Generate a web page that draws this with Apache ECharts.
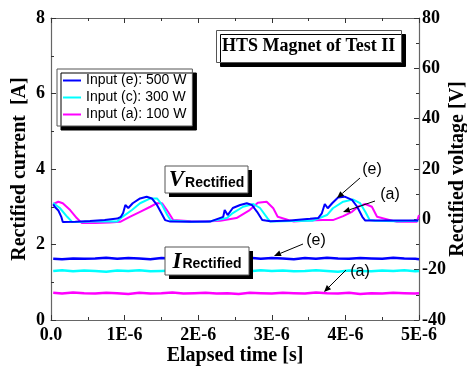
<!DOCTYPE html>
<html><head><meta charset="utf-8">
<script src="https://cdn.jsdelivr.net/npm/echarts@6/dist/echarts.min.js"></script>
<style>html,body{margin:0;padding:0;background:#fff}#c{width:467px;height:372px}</style>
</head><body><div id="c"></div>
<script>
// ---- names ----
const nameE = 'Input (e): 500 W';
const nameC = 'Input (c): 300 W';
const nameA = 'Input (a): 100 W';

// ---- x ticks (µs) and labels ----
const xTickLabels = ['0.0', '1E-6', '2E-6', '3E-6', '4E-6', '5E-6'];

// ---- rectified voltage traces (time in µs, voltage in V) ----
const tVoltE = [0.03,0.05,0.10,0.14,0.16,0.33,0.53,0.73,0.90,0.95,0.98,1.01,1.05,1.11,1.21,1.30,1.37,1.44,1.49,1.55,1.62,1.89,2.16,2.34,2.36,2.40,2.47,2.57,2.66,2.73,2.80,2.87,2.98,3.25,3.52,3.63,3.68,3.72,3.76,3.82,3.90,3.99,4.09,4.16,4.23,4.27,4.61,4.99];
const voltE  = [6.0,5.0,3.5,1.0,-1.1,-1.0,-0.7,-0.3,0.3,1.0,2.5,5.7,4.5,6.4,8.3,9.0,8.3,5.7,3.0,-0.3,-0.9,-1.0,-0.9,1.0,3.7,1.7,4.5,5.7,6.4,5.7,3.0,-0.3,-0.8,-0.5,0.2,0.5,2.4,6.1,4.4,6.4,8.7,9.0,7.7,5.0,1.0,-0.5,-0.5,-0.5];

const tVoltC = [0.03,0.12,0.22,0.29,0.45,0.70,0.90,0.97,1.10,1.21,1.35,1.44,1.51,1.58,1.63,1.90,2.15,2.39,2.47,2.61,2.75,2.84,2.94,2.98,3.30,3.55,3.75,3.83,3.97,4.10,4.20,4.27,4.33,4.40,4.70,4.99];
const voltC  = [6.5,4.5,1.0,-1.1,-1.0,-0.8,-0.9,1.0,3.7,6.4,8.3,8.3,5.7,1.7,-0.5,-1.0,-0.9,0.5,2.5,5.0,6.1,4.5,0.5,-0.9,-0.7,-0.6,1.7,4.4,7.0,7.9,6.4,3.0,-0.3,-0.6,-0.8,-0.6];

const tVoltA = [0.03,0.10,0.16,0.26,0.35,0.42,0.60,0.80,0.94,1.07,1.21,1.35,1.44,1.51,1.59,1.66,1.90,2.10,2.30,2.52,2.70,2.81,2.93,3.02,3.08,3.30,3.50,3.69,3.83,3.97,4.09,4.17,4.27,4.36,4.43,4.70,4.92,4.97,5.00];
const voltA  = [6.1,7.0,6.4,3.7,0.5,-1.5,-1.5,-1.3,-1.0,1.0,3.0,5.0,6.4,6.4,3.0,-0.3,-0.8,-0.9,-0.6,0.5,3.7,6.6,7.0,4.4,1.0,-0.9,-0.5,-0.3,-0.3,1.3,3.0,5.0,6.1,5.0,1.0,-1.0,-1.0,-1.0,1.7];

// ---- rectified current traces (time in µs, current in A) ----
const tCurr = [0.03,0.15,0.30,0.45,0.60,0.75,0.90,1.05,1.20,1.35,1.50,1.65,1.80,1.95,2.10,2.25,2.40,2.55,2.70,2.85,3.00,3.15,3.30,3.45,3.60,3.75,3.90,4.05,4.20,4.35,4.50,4.65,4.80,4.95,5.00];
const currE = [1.62,1.61,1.63,1.62,1.63,1.65,1.62,1.64,1.63,1.61,1.64,1.63,1.65,1.62,1.63,1.64,1.62,1.63,1.65,1.62,1.64,1.63,1.61,1.64,1.62,1.65,1.63,1.62,1.64,1.63,1.62,1.65,1.63,1.62,1.61];
const currC = [1.30,1.32,1.29,1.31,1.30,1.28,1.31,1.30,1.32,1.29,1.30,1.31,1.29,1.32,1.30,1.28,1.31,1.30,1.29,1.32,1.30,1.31,1.29,1.30,1.32,1.30,1.28,1.31,1.30,1.29,1.31,1.30,1.32,1.29,1.30];
const currA = [0.72,0.70,0.73,0.71,0.70,0.72,0.71,0.69,0.72,0.70,0.71,0.73,0.70,0.71,0.72,0.70,0.71,0.69,0.72,0.71,0.70,0.72,0.71,0.70,0.73,0.71,0.70,0.72,0.69,0.71,0.70,0.72,0.71,0.70,0.71];

const colE = '#0000ff', colC = '#00ffff', colA = '#ff00ff';
const serif = '"Liberation Serif","Times New Roman",serif';
const sans = '"Liberation Sans",Arial,sans-serif';
const axisCol = '#666';

function pairs(t, v){ return t.map((x,i)=>[x, v[i]]); }

function axisCommon(){
  return {
    nameMoveOverlap:false,
    axisLine:{show:true, onZero:false, lineStyle:{color:axisCol, width:1.2}},
    axisTick:{show:true, inside:true, length:5, lineStyle:{color:'#333'}},
    minorTick:{show:true, splitNumber:2, length:3, lineStyle:{color:'#333'}},
    splitLine:{show:false},
    axisLabel:{color:'#000', fontFamily:serif, fontWeight:'bold', fontSize:18}
  };
}

function arrow(x1,y1,x2,y2){
  const ang = Math.atan2(y2-y1, x2-x1), L = 7, W = 3;
  const bx = x2 - L*Math.cos(ang), by = y2 - L*Math.sin(ang);
  const px = -Math.sin(ang)*W, py = Math.cos(ang)*W;
  return [
    {type:'line', z:100, shape:{x1:x1,y1:y1,x2:bx,y2:by}, style:{stroke:'#000', lineWidth:1}},
    {type:'polygon', z:100, shape:{points:[[x2,y2],[bx+px,by+py],[bx-px,by-py]]}, style:{fill:'#000'}}
  ];
}
function annText(txt, x, y){
  return {type:'text', z:100, x:x, y:y, style:{text:txt, fill:'#000', fontSize:16, fontFamily:sans, align:'center', verticalAlign:'middle', textAlign:'center', textVerticalAlign:'middle'}};
}
function labelBox(x, y, w, h, big){
  return [
    {type:'rect', z:99, shape:{x:x+4, y:y+4, width:w, height:h}, style:{fill:'#000'}},
    {type:'rect', z:99, shape:{x:x, y:y, width:w, height:h}, style:{fill:'#fff', stroke:'#555', lineWidth:1}},
    {type:'text', z:100, x:x+w/2, y:y+h/2+1, style:{
      text:'{v|'+big+'}{r|Rectified}', align:'center', verticalAlign:'middle', textAlign:'center', textVerticalAlign:'middle',
      rich:{
        v:{fontFamily:serif, fontStyle:'italic', fontWeight:'bold', fontSize:23, fill:'#000', verticalAlign:'bottom'},
        r:{fontFamily:sans, fontWeight:'bold', fontSize:14, fill:'#000', verticalAlign:'bottom', padding:[0,0,2,1]}
      }}}
  ];
}

const chart = echarts.init(document.getElementById('c'), null, {renderer:'canvas'});
const xBottom = Object.assign(axisCommon(), {
  type:'value', position:'bottom', min:0, max:5, interval:1,
  name:'Elapsed time [s]', nameLocation:'middle', nameGap:26,
  nameTextStyle:{color:'#000', fontFamily:serif, fontWeight:'bold', fontSize:20},
});
xBottom.axisLabel = Object.assign(xBottom.axisLabel, {margin:6, formatter:(v)=>xTickLabels[Math.round(v)]});
const xTop = Object.assign(axisCommon(), {type:'value', position:'top', min:0, max:5, interval:1});
xTop.axisLabel = {show:false};
const yLeft = Object.assign(axisCommon(), {
  type:'value', position:'left', min:0, max:8, interval:2,
  name:'Rectified current  [A]', nameLocation:'middle', nameGap:21,
  nameTextStyle:{color:'#000', fontFamily:serif, fontWeight:'bold', fontSize:20}
});
yLeft.axisLabel.margin = 6;
const yRight = Object.assign(axisCommon(), {
  type:'value', position:'right', min:-40, max:80, interval:20,
  name:'Rectified voltage [V]', nameLocation:'middle', nameGap:29,
  nameTextStyle:{color:'#000', fontFamily:serif, fontWeight:'bold', fontSize:20}
});
yRight.axisLabel.margin = 3;

function line(name, color, data, yIdx, w){
  return {type:'line', name:name, xAxisIndex:0, yAxisIndex:yIdx, data:data, showSymbol:false, symbol:'none',
    lineStyle:{color:color, width:w}, itemStyle:{color:color}, silent:true};
}

chart.setOption({
  animation:false,
  backgroundColor:'#fff',
  grid:{left:51, right:48, top:18, bottom:52, containLabel:false, outerBoundsMode:'none'},
  title:{text:'HTS Magnet of Test II', left:216, top:30, padding:[7,6,8,6],
    backgroundColor:'#fff', borderColor:'#555', borderWidth:1,
    shadowColor:'#000', shadowBlur:0, shadowOffsetX:4, shadowOffsetY:4,
    textStyle:{color:'#000', fontFamily:serif, fontWeight:'bold', fontSize:18}},
  legend:{data:[nameE, nameC, nameA], orient:'vertical', left:57, top:69,
    padding:[3,6,3,6], itemGap:0, itemWidth:18, itemHeight:2, icon:'rect',
    backgroundColor:'#fff', borderColor:'#555', borderWidth:1,
    shadowColor:'#000', shadowBlur:0, shadowOffsetX:4, shadowOffsetY:4,
    textStyle:{color:'#000', fontFamily:sans, fontSize:14, lineHeight:17}},
  xAxis:[xBottom, xTop],
  yAxis:[yLeft, yRight],
  series:[
    line(nameA, colA, pairs(tVoltA, voltA), 1, 2),
    line(nameC, colC, pairs(tVoltC, voltC), 1, 2),
    line(nameE, colE, pairs(tVoltE, voltE), 1, 2),
    line(nameA, colA, pairs(tCurr, currA), 0, 2.5),
    line(nameC, colC, pairs(tCurr, currC), 0, 2.5),
    line(nameE, colE, pairs(tCurr, currE), 0, 2.5)
  ],
  graphic:[].concat(
    labelBox(165, 166, 83, 27, 'V'),
    labelBox(165, 247, 84, 28, 'I'),
    annText('(e)', 372, 170), arrow(360,178,337,198),
    annText('(a)', 390, 195), arrow(375,201,343,212),
    annText('(e)', 316, 241), arrow(303,244,274,256),
    annText('(a)', 360, 272), arrow(346,270,324,292)
  )
});
</script></body></html>
